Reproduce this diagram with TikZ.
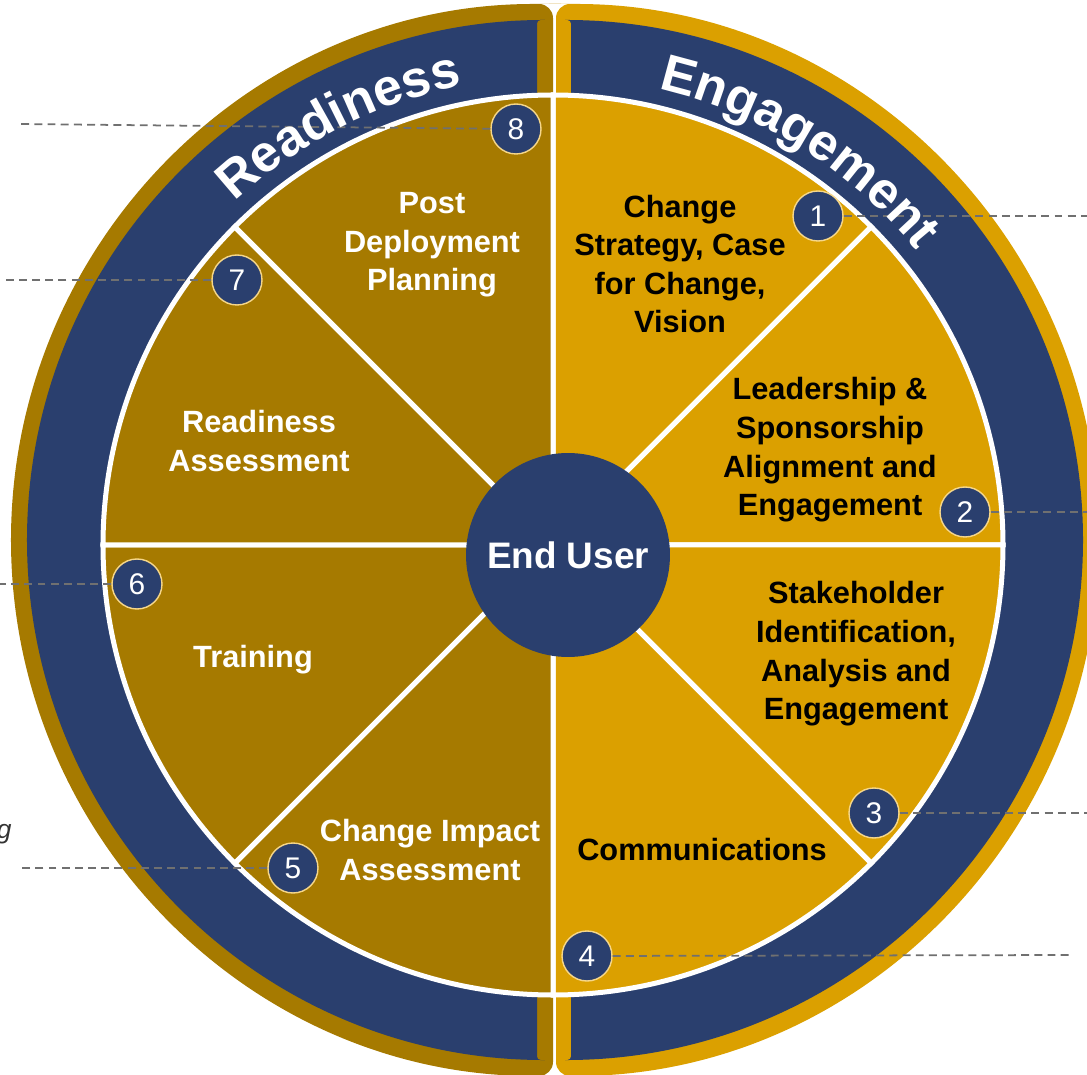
\documentclass[tikz,border=0pt]{standalone}
\usepackage{fontspec}
\setmainfont{Liberation Sans}
\usetikzlibrary{decorations.text}

\definecolor{navy}{HTML}{2A3F6E}
\definecolor{darkgold}{HTML}{A67A00}
\definecolor{lightgold}{HTML}{DBA000}
\definecolor{dotrim}{HTML}{F6D78A}
\definecolor{leadergray}{HTML}{707070}

\newcommand{\piefont}{\fontsize{17.5}{22}\selectfont\bfseries}
\newcommand{\hubfont}{\fontsize{21}{24}\selectfont\bfseries}
\newcommand{\numfont}{\fontsize{17}{20}\selectfont}
\newcommand{\ringfont}{\fontsize{29.5}{31}\selectfont\bfseries}

\tikzset{
  darktext/.style={text=white, font=\piefont, align=center},
  lighttext/.style={text=black, font=\piefont, align=center},
  wedge/.style={draw=white, line width=1mm},
  hub/.style={circle, fill=navy, minimum size=4.08cm, inner sep=0pt, text=white, font=\hubfont},
  numdot/.style={circle, fill=navy, draw=dotrim, line width=0.8pt, minimum size=1cm, inner sep=0pt, text=white, font=\numfont},
  leader/.style={leadergray, line width=1pt, dash pattern=on 4.5pt off 3pt},
  ringtext/.style={decorate, decoration={text along path, text color=white, text align=center, text={#1}}},
}

\begin{document}
\begin{tikzpicture}[x=0.02cm, y=0.02cm]
\useasboundingbox (-553,-529) rectangle (534,545);

% two halves of the outer band
\fill[darkgold, rounded corners=8] (0,541) -- (-6,541) arc[start angle=90, end angle=270, radius=536] -- (0,-531) -- cycle;
\fill[lightgold, rounded corners=8] (3,541) -- (10,541) arc[start angle=90, end angle=-90, radius=536] -- (3,-531) -- cycle;
\fill[navy, rounded corners=2] (-16,525) -- (-6,525) arc[start angle=90, end angle=270, radius=520] -- (-16,-515) -- cycle;
\fill[navy, rounded corners=2] (18,525) -- (10,525) arc[start angle=90, end angle=-90, radius=520] -- (18,-515) -- cycle;

% pie
\draw[wedge, fill=lightgold] (0,0) -- (90:450) arc[start angle=90, end angle=45, radius=450] -- cycle;
\draw[wedge, fill=lightgold] (0,0) -- (45:450) arc[start angle=45, end angle=0, radius=450] -- cycle;
\draw[wedge, fill=lightgold] (0,0) -- (0:450) arc[start angle=0, end angle=-45, radius=450] -- cycle;
\draw[wedge, fill=lightgold] (0,0) -- (-45:450) arc[start angle=-45, end angle=-90, radius=450] -- cycle;
\draw[wedge, fill=darkgold] (0,0) -- (270:450) arc[start angle=270, end angle=225, radius=450] -- cycle;
\draw[wedge, fill=darkgold] (0,0) -- (225:450) arc[start angle=225, end angle=180, radius=450] -- cycle;
\draw[wedge, fill=darkgold] (0,0) -- (180:450) arc[start angle=180, end angle=135, radius=450] -- cycle;
\draw[wedge, fill=darkgold] (0,0) -- (135:450) arc[start angle=135, end angle=90, radius=450] -- cycle;

\node[lighttext] (strategy) at (127,281) {Change\\Strategy, Case\\for Change,\\Vision};
\node[lighttext] (leadership) at (277,95) {Leadership \&\\Sponsorship\\Alignment and\\Engagement};
\node[lighttext] (stakeholder) at (303,-109) {Stakeholder\\Identification,\\Analysis and\\Engagement};
\node[lighttext] (comms) at (149,-305) {Communications};
\node[darktext] (impact) at (-123,-305) {Change Impact\\Assessment};
\node[darktext] (training) at (-300,-115) {Training};
\node[darktext] (assessment) at (-294,104) {Readiness\\Assessment};
\node[darktext] (postdeploy) at (-121,300) {Post\\Deployment\\Planning};

\node[hub] (user) at (15,-10) {End User};

\node[numdot] (n1) at (265,329) {1};
\node[numdot] (n2) at (412,33) {2};
\node[numdot] (n3) at (321,-268) {3};
\node[numdot] (n4) at (34,-411) {4};
\node[numdot] (n5) at (-260,-323) {5};
\node[numdot] (n6) at (-416,-39) {6};
\node[numdot] (n7) at (-316,265) {7};
\node[numdot] (n8) at (-37,416) {8};

\coordinate (e1) at (534,329);
\coordinate (e2) at (534,33);
\coordinate (e3) at (534,-268);
\coordinate (e4) at (520,-410);
\coordinate (e5) at (-535,-323);
\coordinate (e6) at (-553,-39);
\coordinate (e7) at (-548,265);
\coordinate (e8) at (-535,421);

\draw[leader] (n1) -- (e1);
\draw[leader] (n2) -- (e2);
\draw[leader] (n3) -- (e3);
\draw[leader] (n4) -- (e4);
\draw[leader] (n5) -- (e5);
\draw[leader] (n6) -- (e6);
\draw[leader] (n7) -- (e7);
\draw[leader] (n8) -- (e8);

% band titles sit over the leaders
\path[ringtext={|\ringfont|Readiness}] (147:468) arc[start angle=147, end angle=87, radius=468];
\path[ringtext={|\ringfont|Engagement}] (88:468) arc[start angle=88, end angle=28, radius=468];

\node[font=\fontsize{15}{18}\selectfont\itshape, text=black!80, anchor=base east, inner sep=0pt] (gtail) at (-541,-293) {g};
\end{tikzpicture}
\end{document}
